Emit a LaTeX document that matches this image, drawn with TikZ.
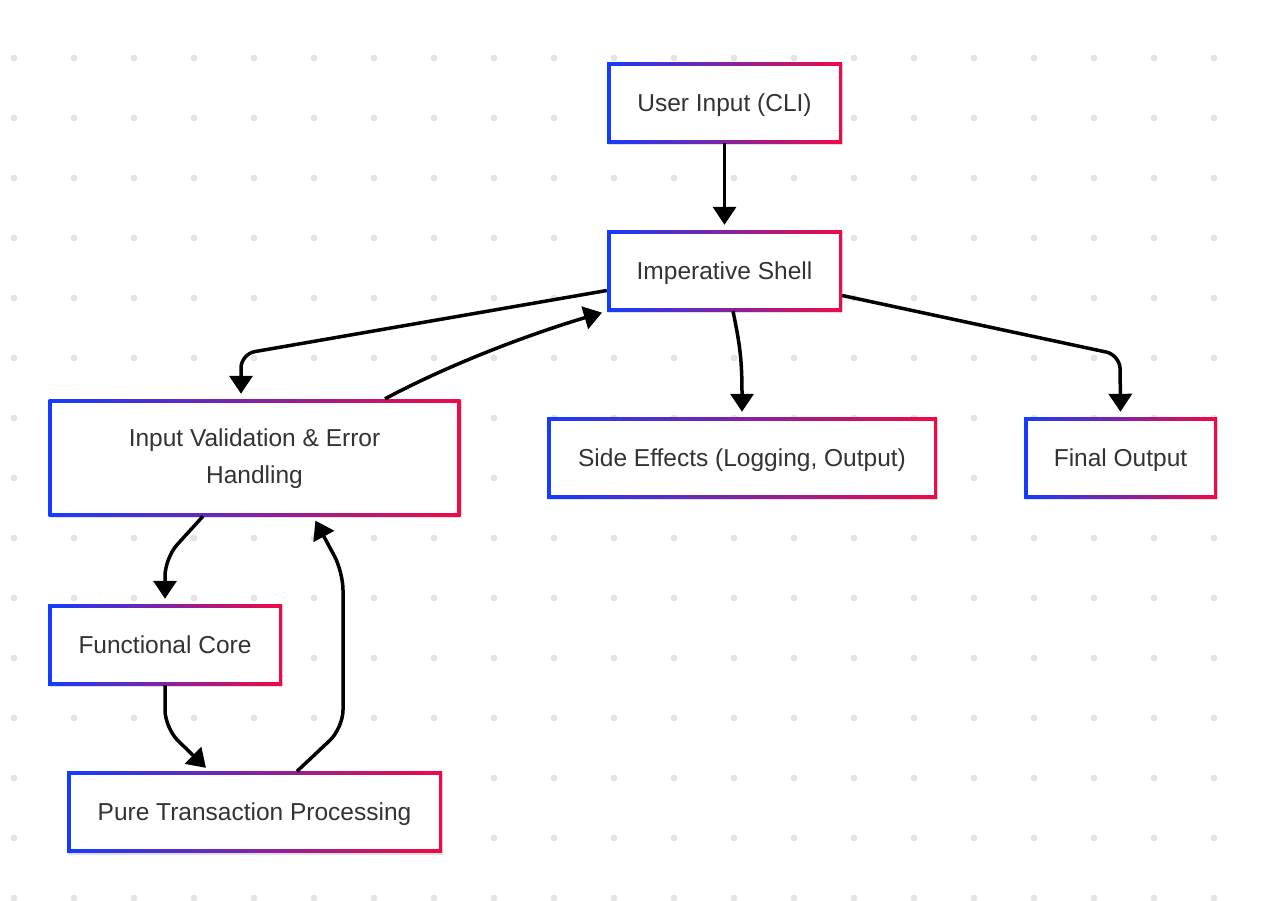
\documentclass[tikz,border=0pt]{standalone}
\usepackage{fontspec}
\setmainfont{Liberation Sans}
\usetikzlibrary{positioning, arrows.meta, shadows}
\definecolor{gblue}{RGB}{20,60,255}
\definecolor{gred}{RGB}{240,10,70}
\definecolor{txtgray}{HTML}{333333}
\definecolor{dotgray}{HTML}{E4E4E7}

\begin{document}
\begin{tikzpicture}[x=1pt, y=-1pt, node distance=168pt, procbox/.style={rectangle, inner sep=0pt, minimum height=81pt, left color=gblue, right color=gred, text=txtgray, align=center, text height=17pt, text depth=0pt, font=\fontsize{24.5pt}{37pt}\selectfont, drop shadow={shadow xshift=1pt, shadow yshift=-2pt, fill=black, opacity=0.12}, path picture={\fill[white] ([shift={(3.5pt,3.5pt)}]path picture bounding box.south west) rectangle ([shift={(-3.5pt,-3.5pt)}]path picture bounding box.north east);}}, flow/.style={-{Triangle[length=18pt, width=23pt]}, line width=3.5pt, shorten >=5pt, rounded corners=18pt}]

    \useasboundingbox (0,0) rectangle (1268,900);
    \fill[white] (0,0) rectangle (1268,900);
    \foreach \i in {0,...,20}
      \foreach \j in {0,...,14}
        \fill[dotgray] (14+60*\i, 58+60*\j) circle (3.5pt);

    \node[procbox, minimum width=235pt] (user) at (724.5,102.5) {User Input (CLI)};
    \node[procbox, minimum width=235pt, below of=user] (shell) {Imperative Shell};
    \node[procbox, minimum width=390pt, below of=shell, node distance=187pt, xshift=17.5pt] (side) {Side Effects (Logging, Output)};
    \node[procbox, minimum width=193pt, right of=side, node distance=378.5pt] (final) {Final Output};
    \node[procbox, minimum width=412pt, minimum height=117pt, text height=54pt, text depth=2pt, left of=side, node distance=487.5pt] (valid) {Input Validation \& Error\\Handling};
    \node[procbox, minimum width=234pt, below of=valid, node distance=187pt, xshift=-89.5pt] (core) {Functional Core};
    \node[procbox, minimum width=375pt, below of=valid, node distance=354.5pt] (pure) {Pure Transaction Processing};

    \draw[flow] (user) -- (shell);
    \draw[flow, rounded corners=14pt] ([yshift=-20pt]shell.west) -- (241,354) -- ([xshift=-13.5pt]valid.north);
    \draw[flow] ([xshift=130.5pt]valid.north) .. controls (450,364) and (530,334) .. (shell.south west);
    \draw[flow] ([xshift=8.5pt]shell.south) .. controls (740,345) and (742,360) .. (side.north);
    \draw[flow, rounded corners=14pt] ([yshift=-25pt]shell.east) -- (1120,355) -- (final.north);
    \draw[flow] ([xshift=-51.5pt]valid.south) -- (165,558) -- (core.north);
    \draw[flow] (core.south) -- (165,728) -- ([xshift=-45pt]pure.north);
    \draw[flow] ([xshift=42.5pt]pure.north) -- (343,728) -- (343,572) -- ([xshift=58.5pt]valid.south);
  \end{tikzpicture}
\end{document}
